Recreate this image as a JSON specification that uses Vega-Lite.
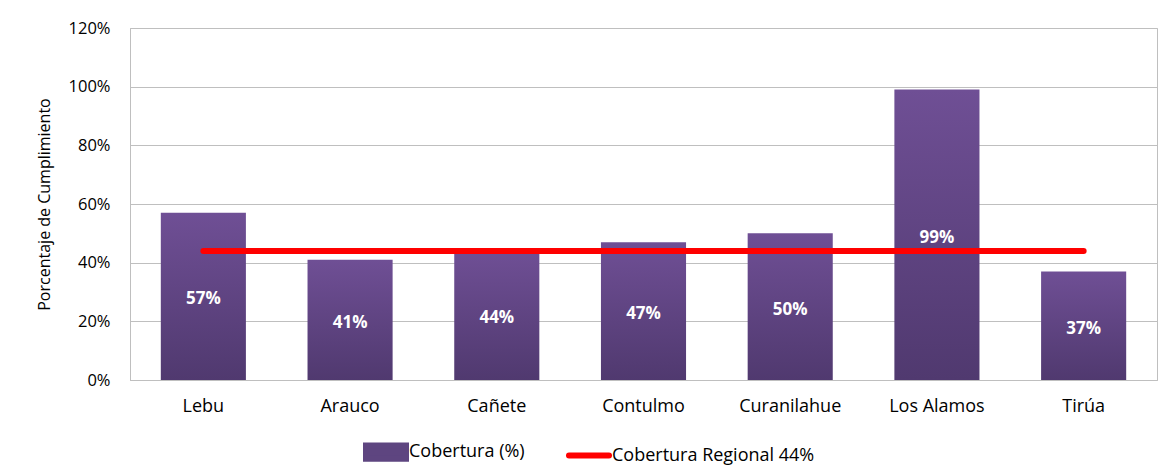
{
  "$schema": "https://vega.github.io/schema/vega-lite/v6.json",
  "width": 1027,
  "height": 352,
  "autosize": {"type": "none"},
  "padding": {"left": 130, "top": 28, "right": 9, "bottom": 91},
  "background": "white",
  "config": {
    "view": {"stroke": "#bfbfbf", "strokeWidth": 1},
    "font": "Open Sans"
  },
  "data": {
    "values": [
      {"comuna": "Lebu", "cobertura": 0.57, "regional": 0.44},
      {"comuna": "Arauco", "cobertura": 0.41, "regional": 0.44},
      {"comuna": "Cañete", "cobertura": 0.44, "regional": 0.44},
      {"comuna": "Contulmo", "cobertura": 0.47, "regional": 0.44},
      {"comuna": "Curanilahue", "cobertura": 0.50, "regional": 0.44},
      {"comuna": "Los Alamos", "cobertura": 0.99, "regional": 0.44},
      {"comuna": "Tirúa", "cobertura": 0.37, "regional": 0.44}
    ]
  },
  "layer": [
    {
      "mark": {
        "type": "bar",
        "fill": {
          "gradient": "linear", "x1": 0, "y1": 0, "x2": 0, "y2": 1,
          "stops": [{"offset": 0, "color": "#6f4f95"}, {"offset": 1, "color": "#50396f"}]
        }
      },
      "encoding": {
        "x": {
          "field": "comuna", "type": "nominal", "sort": null,
          "scale": {"paddingInner": 0.42, "paddingOuter": 0.21},
          "axis": {
            "title": null, "labelAngle": 0, "labelFontSize": 18, "labelColor": "#000000",
            "ticks": false, "domainColor": "#bfbfbf", "labelPadding": 17, "grid": false
          }
        },
        "y": {
          "field": "cobertura", "type": "quantitative",
          "scale": {"domain": [0, 1.2]},
          "axis": {
            "values": [0, 0.2, 0.4, 0.6, 0.8, 1.0, 1.2], "format": ".0%",
            "grid": true, "gridColor": "#bfbfbf", "ticks": false, "domainColor": "#bfbfbf",
            "labelPadding": 20, "labelFontSize": 16.5, "labelColor": "#000000",
            "title": "Porcentaje de Cumplimiento", "titleFontSize": 16, "titleFontWeight": "normal",
            "titleColor": "#000000", "titlePadding": 16
          }
        }
      }
    },
    {
      "mark": {"type": "line", "strokeWidth": 6, "strokeCap": "round"},
      "encoding": {
        "x": {"field": "comuna", "type": "nominal", "sort": null},
        "y": {"field": "regional", "type": "quantitative", "scale": {"domain": [0, 1.2]}, "axis": null},
        "color": {
          "datum": "Cobertura Regional 44%", "type": "nominal",
          "scale": {"domain": ["Cobertura (%)", "Cobertura Regional 44%"], "range": ["#5e4580", "#ff0000"]},
          "legend": {
            "title": null, "orient": "none", "direction": "horizontal",
            "legendX": 233, "legendY": 401, "padding": 0,
            "symbolSize": 1600, "labelFontSize": 18, "labelColor": "#000000", "labelLimit": 400,
            "labelOffset": 0, "columnPadding": 32,
            "encode": {
              "symbols": {
                "update": {
                  "shape": [{"test": "datum.value === 'Cobertura (%)'", "value": "M-1,-0.33H1V0.33H-1Z"}, {"value": "stroke"}],
                  "fill": [{"test": "datum.value === 'Cobertura (%)'", "value": "#5e4580"}, {"value": "transparent"}],
                  "stroke": [{"test": "datum.value === 'Cobertura (%)'", "value": "transparent"}, {"value": "#ff0000"}],
                  "strokeWidth": {"value": 6},
                  "strokeCap": {"value": "round"},
                  "opacity": {"value": 1}
                }
              }
            }
          }
        }
      }
    },
    {
      "mark": {"type": "text", "color": "white", "fontWeight": "bold", "fontSize": 17, "dy": 3},
      "encoding": {
        "x": {"field": "comuna", "type": "nominal", "sort": null},
        "y": {"field": "cobertura", "type": "quantitative", "scale": {"domain": [0, 2.4]}, "axis": null},
        "text": {"field": "cobertura", "type": "quantitative", "format": ".0%"}
      }
    }
  ],
  "resolve": {"scale": {"y": "independent"}}
}
